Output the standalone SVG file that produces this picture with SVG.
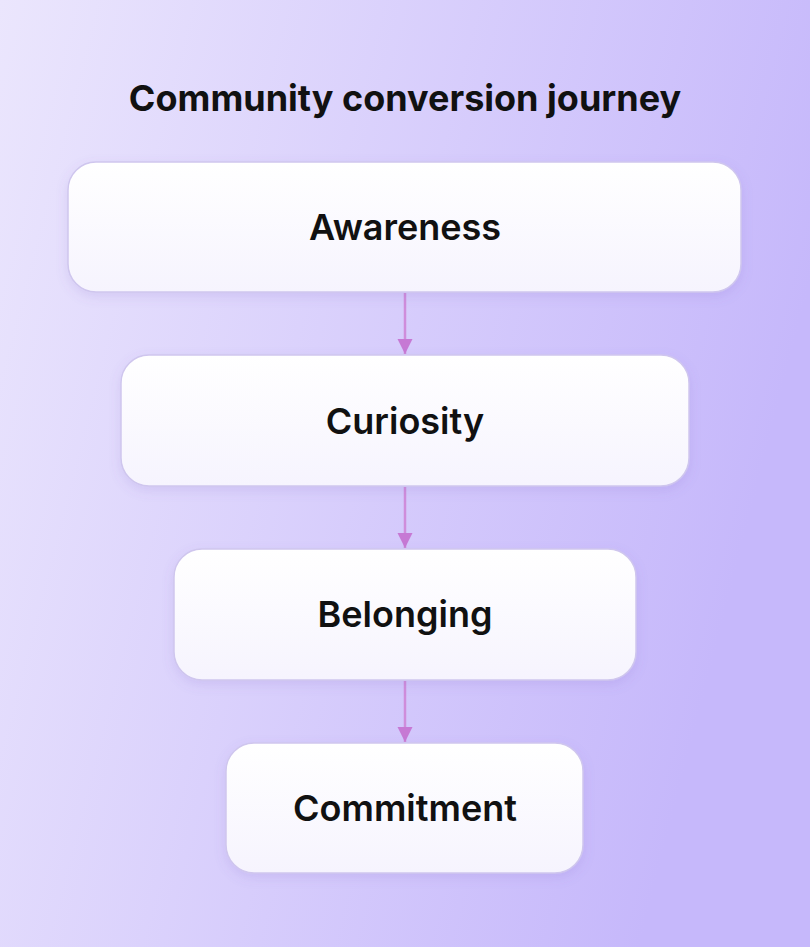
<svg xmlns="http://www.w3.org/2000/svg" width="810" height="947" viewBox="0 0 810 947">
<defs>
<linearGradient id="bg" x1="0" y1="0" x2="1" y2="0.3"><stop offset="0" stop-color="#ebe6fd"/><stop offset="1" stop-color="#c6b8fb"/></linearGradient>
<linearGradient id="nf" x1="0" y1="0" x2="0" y2="1"><stop offset="0" stop-color="#ffffff"/><stop offset="1" stop-color="#f6f4fe"/></linearGradient>
<filter id="sh" x="-10%" y="-20%" width="120%" height="150%"><feDropShadow dx="0" dy="4" stdDeviation="6" flood-color="#7a5fc0" flood-opacity="0.15"/></filter>
<marker id="ah" viewBox="0 0 10 10" refX="10" refY="5" markerWidth="15" markerHeight="16" markerUnits="userSpaceOnUse" orient="auto"><path d="M0,0L10,5L0,10z" fill="#c679d4"/></marker>
</defs>
<style>
.n rect{fill:url(#nf);stroke:#cfc6ee;stroke-width:1.5;filter:url(#sh)}
.n text{font-family:Inter,"Liberation Sans",sans-serif;font-weight:600;font-size:36px;fill:#111;text-anchor:middle;dominant-baseline:central}
.c line{stroke:#cf8ddb;stroke-width:2.5;marker-end:url(#ah)}
</style>
<rect width="810" height="947" fill="url(#bg)"/>
<text x="405" y="98" font-family="Inter,'Liberation Sans',sans-serif" font-weight="700" font-size="36" fill="#111" text-anchor="middle" dominant-baseline="central">Community conversion journey</text>
<g class="c">
<line x1="405" y1="293" x2="405" y2="354"/>
<line x1="405" y1="487" x2="405" y2="548"/>
<line x1="405" y1="681" x2="405" y2="742"/>
</g>
<g id="awareness" class="n"><rect x="68" y="162" width="673" height="130" rx="28"/><text x="405" y="227">Awareness</text></g>
<g id="curiosity" class="n"><rect x="121" y="355" width="568" height="131" rx="28"/><text x="405" y="421">Curiosity</text></g>
<g id="belonging" class="n"><rect x="174" y="549" width="462" height="131" rx="28"/><text x="405" y="614">Belonging</text></g>
<g id="commitment" class="n"><rect x="226" y="743" width="357" height="130" rx="28"/><text x="405" y="808">Commitment</text></g>
</svg>
